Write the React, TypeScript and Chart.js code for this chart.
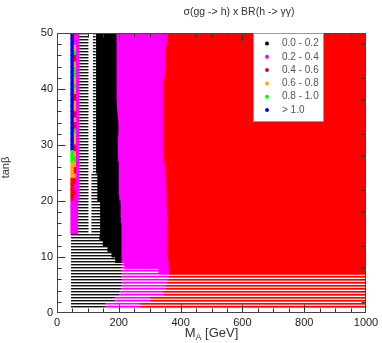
import React, { useEffect, useRef } from "react";
import { Chart, registerables } from "chart.js";

Chart.register(...registerables);

// ---------------- data ----------------
const CLASS_LABELS = ["0.0 - 0.2", "0.2 - 0.4", "0.4 - 0.6", "0.6 - 0.8", "0.8 - 1.0", "> 1.0"];
const CLASS_COLORS = ["#000000", "#ff00ff", "#ff0000", "#ffaa00", "#00ff00", "#0000ff"];

const X_MIN = 0;
const X_MAX = 1000;
const Y_MIN = 0;
const Y_MAX = 50;
const X_TICKS = [0, 200, 400, 600, 800, 1000];
const Y_TICKS = [0, 10, 20, 30, 40, 50];
const X_MINOR_STEP = 50;
const Y_MINOR_STEP = 2;

// scan rows (tan beta), 49 rows
const ROW_TANB = [
  1.5, 2.5, 3.5, 4.5, 5.5, 6.5, 7.5, 8.5, 9.5, 10.5,
  11.5, 12.5, 13.5, 14.5, 15.5, 16.5, 17.5, 18.5, 19.5, 20.5,
  21.5, 22.5, 23.5, 24.5, 25.5, 26.5, 27.5, 28.5, 29.5, 30.5,
  31.5, 32.5, 33.5, 34.5, 35.5, 36.5, 37.5, 38.5, 39.5, 40.5,
  41.5, 42.5, 43.5, 44.5, 45.5, 46.5, 47.5, 48.5, 49.5,
];

// M_A edges of the thin left-hand strips
const LEFT_EDGE = 45;
const STRIP_A_END = 56;
const STRIP_B_END = 63;

// class of the strips per row (-1 = none)
const COL_A_CLASS = [
  -1, -1, -1, -1, -1, -1, -1, -1, -1, -1,
  -1, -1, -1, 1, 1, 1, 1, 1, 1, 2,
  2, 2, 2, 3, 3, 3, 4, 4, 5, 5,
  5, 5, 5, 5, 5, 5, 5, 5, 5, 5,
  5, 5, 5, 5, 5, 5, 5, 5, 5,
];
const COL_B_CLASS = [
  -1, -1, -1, -1, -1, -1, -1, -1, -1, -1,
  -1, -1, -1, 1, 1, 1, 1, 1, 1, 1,
  2, 1, 2, 3, 2, 3, 4, 3, 2, 3,
  3, 4, 2, 3, 2, 3, 3, 2, 3, 4,
  3, 4, 4, 3, 2, 4, 3, 1, 1,
];
const COL_C_CLASS = [
  -1, -1, -1, -1, -1, -1, -1, -1, -1, -1,
  -1, -1, -1, 1, 1, 1, 1, 1, 1, 1,
  1, 1, 1, 1, 1, 1, 1, 1, 1, 1,
  1, 1, 1, 1, 1, 1, 1, 1, 1, 1,
  1, 1, 1, 1, 1, 1, 1, 1, 1,
];

// sparse (striped) 0.0-0.2 region
const STRIPE_START = [
  47, 47, 47, 47, 47, 47, 47, 47, 47, 47,
  47, 47, 47, 70, 70, 70, 70, 70, 70, 74,
  74, 74, 74, 74, 74, 74, 74, 74, 74, 74,
  74, 74, 74, 74, 74, 74, 74, 74, 74, 74,
  74, 74, 74, 74, 74, 74, 74, 74, 74,
];
const STRIPE_END = [
  155, 185, 200, 205, 205, 205, 204, 200, 190, 178,
  165, 150, 139, 100, 100, 100, 100, 100, 100, 100,
  100, 100, 100, 100, 100, 100, 100, 100, 100, 100,
  100, 100, 100, 100, 100, 100, 100, 100, 100, 100,
  100, 100, 100, 100, 100, 100, 100, 100, 100,
];
const MID_START = [
  null, null, null, null, null, null, null, null, null, null,
  null, null, null, 113, 113, 113, 113, 113, 113, 113,
  113, 113, 113, 113, 118, 118, 118, 118, 118, 118,
  118, 118, 118, 118, 118, 118, 118, 118, 118, 118,
  118, 118, 118, 118, 118, 118, 118, 118, 118,
];
const MID_END = [
  null, null, null, null, null, null, null, null, null, null,
  null, null, null, 141, 141, 141, 141, 141, 141, 132,
  132, 132, 132, 132, 124, 124, 124, 124, 124, 124,
  124, 124, 124, 124, 124, 124, 124, 124, 124, 124,
  124, 124, 124, 124, 124, 124, 124, 124, 124,
];

// dense 0.0-0.2 region and the class boundaries
const BLACK_START = [
  155, 185, 200, 205, 205, 205, 204, 200, 190, 178,
  165, 150, 139, 141, 141, 141, 141, 141, 141, 132,
  132, 132, 132, 132, 128, 128, 128, 128, 128, 128,
  128, 128, 128, 128, 128, 128, 128, 128, 128, 128,
  128, 128, 128, 128, 128, 128, 128, 128, 128,
];
const BLACK_END = [
  155, 185, 200, 205, 207, 207, 207, 207, 207, 207,
  207, 207, 207, 207, 207, 205, 204, 204, 204, 200,
  198, 198, 198, 198, 198, 198, 196, 195, 195, 195,
  196, 197, 197, 196, 194, 193, 192, 191, 191, 191,
  191, 191, 191, 191, 191, 191, 191, 191, 191,
];
const MAG_END = [
  269, 301, 343, 350, 356, 360, 362, 360, 358, 357,
  356, 356, 356, 356, 356, 356, 356, 354, 353, 353,
  353, 352, 352, 350, 348, 347, 345, 344, 344, 344,
  344, 344, 344, 344, 344, 344, 344, 344, 344, 344,
  344, 347, 349, 350, 350, 350, 352, 354, 357, 358,
];
// rows are sparse (striped) up to this M_A
const STRIPE_LIMIT = [
  1000, 1000, 1000, 1000, 1000, 1000, 330, 220, 0, 0,
  0, 0, 0, 0, 0, 0, 0, 0, 0, 0,
  0, 0, 0, 0, 0, 0, 0, 0, 0, 0,
  0, 0, 0, 0, 0, 0, 0, 0, 0, 0,
  0, 0, 0, 0, 0, 0, 0, 0, 0,
];

// ---------------- build bar table ----------------
type Seg = { x: [number, number]; y: number; s: boolean };

function buildSegments(): Seg[][] {
  const out: Seg[][] = CLASS_LABELS.map(() => []);
  const add = (cls: number | undefined, a: number | null | undefined, b: number | null | undefined, t: number, lim: number, always = false) => {
    if (cls == null || cls < 0 || !out[cls] || a == null || b == null || b <= a) return;
    if (always || lim >= b) out[cls].push({ x: [a, b], y: t, s: true });
    else if (lim <= a) out[cls].push({ x: [a, b], y: t, s: false });
    else {
      out[cls].push({ x: [a, lim], y: t, s: true });
      out[cls].push({ x: [lim, b], y: t, s: false });
    }
  };
  ROW_TANB.forEach((t, i) => {
    const lim = STRIPE_LIMIT[i] ?? 0;
    add(COL_A_CLASS[i], LEFT_EDGE, STRIP_A_END, t, lim);
    add(COL_B_CLASS[i], STRIP_A_END, STRIP_B_END, t, lim);
    add(COL_C_CLASS[i], STRIP_B_END, STRIPE_START[i], t, lim);
    add(0, STRIPE_START[i], STRIPE_END[i], t, lim, true);
    add(0, MID_START[i], MID_END[i], t, lim, true);
    add(0, BLACK_START[i], BLACK_END[i], t, lim);
    add(1, BLACK_END[i], MAG_END[i], t, lim);
    add(2, MAG_END[i], X_MAX, t, lim);
  });
  return out;
}

const STRIPE_SHADES = [
  ["#111111", "#9a9a9a", "#ffffff"],
  ["#ff00ff", "#ff70ff", "#ffffff"],
  ["#ff0000", "#ff5050", "#ffffff"],
  ["#ffaa00", "#ffcc66", "#ffffff"],
  ["#00ff00", "#77ff77", "#ffffff"],
  ["#0000ff", "#6666ff", "#ffffff"],
];

function makePattern(shades: string[]): CanvasPattern | string {
  const c = document.createElement("canvas");
  c.width = 1;
  c.height = shades.length;
  const g = c.getContext("2d")!;
  shades.forEach((s, i) => {
    g.fillStyle = s;
    g.fillRect(0, i, 1, 1);
  });
  return g.createPattern(c, "repeat") || shades[0];
}

const FONT = '"Liberation Sans", Arial, Helvetica, sans-serif';

const decorPlugin = {
  id: "decor",
  afterDatasetsDraw(chart: any) {
    const { ctx, chartArea: a, scales } = chart;
    const xs = scales.x;
    const ys = scales.y;
    const L = Math.round(a.left) + 0.5;
    const R = Math.round(a.right) - 0.5;
    const T = Math.round(a.top) + 0.5;
    const B = Math.round(a.bottom) - 0.5;
    ctx.save();
    ctx.strokeStyle = "#333";
    ctx.lineWidth = 1;
    ctx.beginPath();
    for (let v = X_MIN + X_MINOR_STEP; v < X_MAX; v += X_MINOR_STEP) {
      const px = Math.round(xs.getPixelForValue(v)) + 0.5;
      const len = X_TICKS.includes(v) ? 8 : 4;
      ctx.moveTo(px, B);
      ctx.lineTo(px, B - len);
      ctx.moveTo(px, T);
      ctx.lineTo(px, T + len);
    }
    for (let v = Y_MIN + Y_MINOR_STEP; v < Y_MAX; v += Y_MINOR_STEP) {
      const py = Math.round(ys.getPixelForValue(v)) + 0.5;
      const len = Y_TICKS.includes(v) ? 8 : 4;
      ctx.moveTo(L, py);
      ctx.lineTo(L + len, py);
      ctx.moveTo(R, py);
      ctx.lineTo(R - len, py);
    }
    ctx.stroke();
    ctx.strokeStyle = "#444";
    ctx.strokeRect(L, T, R - L, B - T);

    // legend box
    const lx = 253.5, ly = T, lw = 70, lh = 88;
    ctx.fillStyle = "#ffffff";
    ctx.fillRect(lx, ly, lw, lh);
    ctx.strokeStyle = "#999";
    ctx.strokeRect(lx, ly, lw, lh);
    ctx.font = `10px ${FONT}`;
    ctx.textBaseline = "middle";
    ctx.textAlign = "left";
    CLASS_LABELS.forEach((lab, i) => {
      const cy = ly + 10 + i * 13.3;
      ctx.fillStyle = CLASS_COLORS[i];
      ctx.beginPath();
      ctx.arc(267, cy, 2, 0, Math.PI * 2);
      ctx.fill();
      ctx.fillStyle = "#555";
      ctx.fillText(lab, 282, cy);
    });

    // chart title
    ctx.fillStyle = "#333";
    ctx.font = `10.5px ${FONT}`;
    ctx.textAlign = "center";
    ctx.textBaseline = "alphabetic";
    ctx.fillText("σ(gg -> h) x BR(h -> γγ)", 239, 15);

    // x axis title with subscript
    const main = `13px ${FONT}`;
    const sub = `9px ${FONT}`;
    ctx.font = main;
    const wM = ctx.measureText("M").width;
    const wRest = ctx.measureText(" [GeV]").width;
    ctx.font = sub;
    const wA = ctx.measureText("A").width;
    const total = wM + wA + wRest;
    const x0 = (a.left + a.right) / 2 - total / 2;
    ctx.textAlign = "left";
    ctx.font = main;
    ctx.fillText("M", x0, 337);
    ctx.font = sub;
    ctx.fillText("A", x0 + wM, 340);
    ctx.font = main;
    ctx.fillText(" [GeV]", x0 + wM + wA, 337);

    // y axis title
    ctx.translate(9, 167.5);
    ctx.rotate(-Math.PI / 2);
    ctx.font = `11px ${FONT}`;
    ctx.textAlign = "center";
    ctx.textBaseline = "alphabetic";
    ctx.fillText("tanβ", 0, 0);
    ctx.restore();
  },
};

export default function App() {
  const ref = useRef<HTMLCanvasElement | null>(null);
  useEffect(() => {
    document.body.style.margin = "0";
    const segs = buildSegments();
    const patterns = STRIPE_SHADES.map(makePattern);
    const datasets = CLASS_LABELS.map((label, k) => ({
      label,
      data: segs[k] as any[],
      backgroundColor: (c: any) => (c.raw && c.raw.s ? patterns[k] : CLASS_COLORS[k]),
      borderWidth: 0,
      grouped: false,
      barPercentage: 1,
      categoryPercentage: 1,
      inflateAmount: 0.5,
    }));
    const chart = new Chart(ref.current!, {
      type: "bar",
      data: { datasets } as any,
      plugins: [decorPlugin],
      options: {
        indexAxis: "y",
        responsive: false,
        animation: false,
        devicePixelRatio: 1,
        events: [],
        layout: { padding: { top: 33, right: 16, left: 0, bottom: 0 } },
        plugins: { legend: { display: false }, tooltip: { enabled: false }, title: { display: false } },
        scales: {
          x: {
            type: "linear",
            min: X_MIN,
            max: X_MAX,
            afterFit: (s: any) => {
              s.height = 30;
            },
            afterBuildTicks: (s: any) => {
              s.ticks = X_TICKS.map((v) => ({ value: v }));
            },
            grid: { display: false, drawTicks: false },
            border: { display: false },
            ticks: {
              padding: 3,
              color: "#222",
              font: { family: FONT, size: 11 },
              maxRotation: 0,
              callback: (v: any) => String(v),
            },
          },
          y: {
            type: "linear",
            min: Y_MIN,
            max: Y_MAX,
            offset: false,
            afterFit: (s: any) => {
              s.width = 57;
            },
            afterBuildTicks: (s: any) => {
              s.ticks = Y_TICKS.map((v) => ({ value: v }));
            },
            grid: { display: false, drawTicks: false, offset: false },
            border: { display: false },
            ticks: { padding: 4, color: "#222", font: { family: FONT, size: 11 }, callback: (v: any) => String(v) },
          },
        },
      } as any,
    });
    return () => chart.destroy();
  }, []);
  return (
    <div style={{ width: 382, height: 343 }}>
      <canvas ref={ref} width={382} height={343} style={{ display: "block" }} />
    </div>
  );
}
